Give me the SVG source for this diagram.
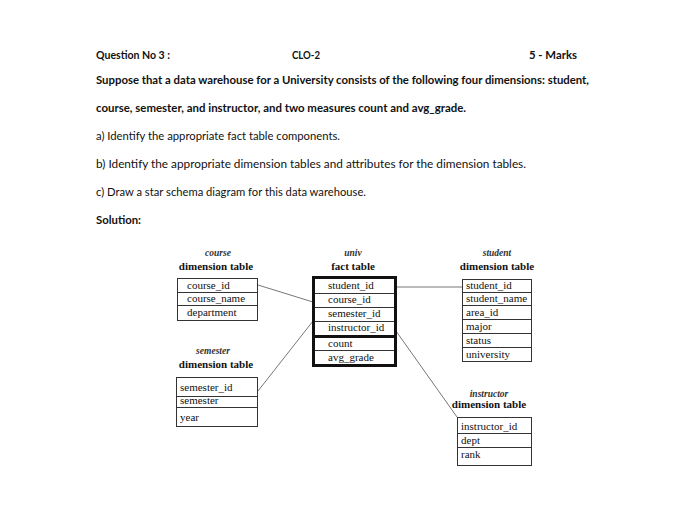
<svg xmlns="http://www.w3.org/2000/svg" width="700" height="531" viewBox="0 0 700 531">
<style>
.h{font-family:Lato,"Open Sans","Liberation Sans",sans-serif;font-size:11.5px;fill:#111}
.b{font-weight:bold}
.ti{font-family:"Liberation Serif","DejaVu Serif",serif;font-style:italic;font-weight:bold;font-size:9.5px;fill:#333;text-anchor:middle}
.tb{font-family:"Liberation Serif","DejaVu Serif",serif;font-weight:bold;font-size:11px;fill:#111;text-anchor:middle}
.r{font-family:"Liberation Serif","DejaVu Serif",serif;font-size:11px;fill:#111}
.box{fill:none;stroke:#333;stroke-width:1}
.ln{stroke:#333;stroke-width:1}
.thick{fill:none;stroke:#111;stroke-width:3}
.con{stroke:#777;stroke-width:1;fill:none}
</style>
<rect width="700" height="531" fill="#fff"/>
<g id="header">
<text class="h b" x="96" y="59" textLength="74" lengthAdjust="spacingAndGlyphs">Question No 3 :</text>
<text class="h b" x="292" y="59" textLength="28" lengthAdjust="spacingAndGlyphs">CLO-2</text>
<text class="h b" x="529" y="59" textLength="48" lengthAdjust="spacingAndGlyphs">5 - Marks</text>
<text class="h b" x="96" y="84" textLength="493" lengthAdjust="spacingAndGlyphs">Suppose that a data warehouse for a University consists of the following four dimensions: student,</text>
<text class="h b" x="96" y="112" textLength="370" lengthAdjust="spacingAndGlyphs">course, semester, and instructor, and two measures count and avg_grade.</text>
<text class="h" x="96" y="140" textLength="244" lengthAdjust="spacingAndGlyphs">a) Identify the appropriate fact table components.</text>
<text class="h" x="96" y="168" textLength="430" lengthAdjust="spacingAndGlyphs">b) Identify the appropriate dimension tables and attributes for the dimension tables.</text>
<text class="h" x="96" y="196" textLength="270" lengthAdjust="spacingAndGlyphs">c) Draw a star schema diagram for this data warehouse.</text>
<text class="h b" x="96" y="224" textLength="45" lengthAdjust="spacingAndGlyphs">Solution:</text>
</g>
<g id="connectors">
<line class="con" x1="258" y1="285" x2="313" y2="302"/>
<line class="con" x1="258" y1="391" x2="313" y2="321"/>
<line class="con" x1="396" y1="287" x2="462" y2="287"/>
<line class="con" x1="396" y1="331" x2="457" y2="417"/>
</g>
<g id="course">
<text class="ti" x="218" y="256">course</text>
<text class="tb" x="216" y="270">dimension table</text>
<rect class="box" x="177.5" y="278.5" width="80" height="42"/>
<line class="ln" x1="177.5" y1="292.5" x2="257.5" y2="292.5"/>
<line class="ln" x1="177.5" y1="305.5" x2="257.5" y2="305.5"/>
<text class="r" x="187" y="289">course_id</text>
<text class="r" x="187" y="302">course_name</text>
<text class="r" x="187" y="316">department</text>
</g>
<g id="univ">
<text class="ti" x="353" y="256">univ</text>
<text class="tb" x="353" y="270">fact table</text>
<rect class="thick" x="313.5" y="277.5" width="82" height="88"/>
<line class="ln" x1="315" y1="293.5" x2="394" y2="293.5"/>
<line class="ln" x1="315" y1="307.5" x2="394" y2="307.5"/>
<line class="ln" x1="315" y1="321.5" x2="394" y2="321.5"/>
<line class="ln" x1="315" y1="336.5" x2="394" y2="336.5" style="stroke:#111;stroke-width:3"/>
<line class="ln" x1="315" y1="350.5" x2="394" y2="350.5"/>
<text class="r" x="328" y="289">student_id</text>
<text class="r" x="328" y="303">course_id</text>
<text class="r" x="328" y="317">semester_id</text>
<text class="r" x="328" y="331">instructor_id</text>
<text class="r" x="328" y="347">count</text>
<text class="r" x="328" y="361">avg_grade</text>
</g>
<g id="student">
<text class="ti" x="497" y="256">student</text>
<text class="tb" x="497" y="270">dimension table</text>
<rect class="box" x="462.5" y="279.5" width="69" height="82"/>
<line class="ln" x1="462.5" y1="292.5" x2="531.5" y2="292.5"/>
<line class="ln" x1="462.5" y1="305.5" x2="531.5" y2="305.5"/>
<line class="ln" x1="462.5" y1="319.5" x2="531.5" y2="319.5"/>
<line class="ln" x1="462.5" y1="333.5" x2="531.5" y2="333.5"/>
<line class="ln" x1="462.5" y1="347.5" x2="531.5" y2="347.5"/>
<text class="r" x="466" y="289">student_id</text>
<text class="r" x="466" y="302">student_name</text>
<text class="r" x="466" y="316">area_id</text>
<text class="r" x="466" y="330">major</text>
<text class="r" x="466" y="344">status</text>
<text class="r" x="466" y="358">university</text>
</g>
<g id="semester">
<text class="ti" x="213" y="354">semester</text>
<text class="tb" x="216" y="368">dimension table</text>
<rect class="box" x="176.5" y="377.5" width="81" height="49"/>
<line class="ln" x1="176.5" y1="396.5" x2="257.5" y2="396.5"/>
<line class="ln" x1="176.5" y1="407.5" x2="257.5" y2="407.5"/>
<text class="r" x="180" y="391">semester_id</text>
<text class="r" x="180" y="404">semester</text>
<text class="r" x="180" y="421">year</text>
</g>
<g id="instructor">
<text class="ti" x="489" y="397">instructor</text>
<text class="tb" x="489" y="408">dimension table</text>
<rect class="box" x="457.5" y="417.5" width="74" height="48"/>
<line class="ln" x1="457.5" y1="433.5" x2="531.5" y2="433.5"/>
<line class="ln" x1="457.5" y1="447.5" x2="531.5" y2="447.5"/>
<text class="r" x="461" y="430">instructor_id</text>
<text class="r" x="461" y="444">dept</text>
<text class="r" x="461" y="458">rank</text>
</g>
</svg>
